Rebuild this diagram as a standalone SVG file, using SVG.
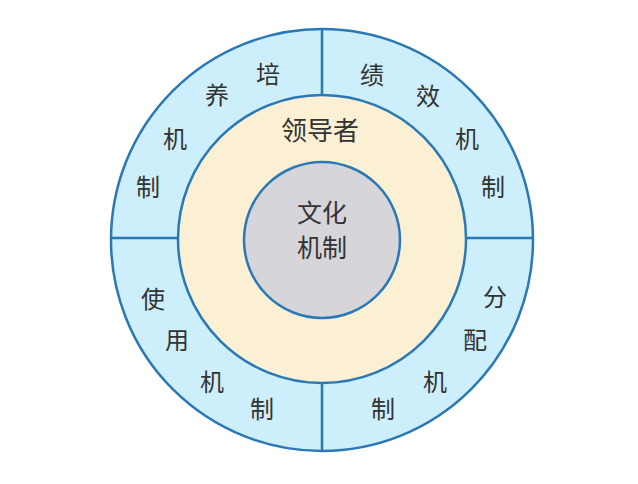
<svg xmlns="http://www.w3.org/2000/svg" width="638" height="484" viewBox="0 0 638 484">
<style>
.ring{stroke:#2a78b5;stroke-width:2.5}
.t{font-family:"Noto Sans CJK SC","Noto Sans",sans-serif;fill:#333;text-anchor:middle;dominant-baseline:central}
.o{font-size:24px}
.m{font-size:26px}
.c{font-size:25px}
</style>
<rect width="638" height="484" fill="#ffffff"/>
<g id="outer">
<circle class="ring" cx="322" cy="240" r="211" fill="#cdeefb"/>
</g>
<g id="connectors">
<line class="ring" x1="322" y1="29" x2="322" y2="451"/>
<line class="ring" x1="111" y1="238" x2="533" y2="238"/>
</g>
<g id="middle">
<circle class="ring" cx="322" cy="239" r="144" fill="#fbf0d3"/>
<text class="t m" x="320" y="128">领导者</text>
</g>
<g id="inner">
<circle class="ring" cx="322" cy="240" r="78" fill="#d6d6da"/>
<text class="t c" x="322" y="211">文化</text>
<text class="t c" x="322" y="246">机制</text>
</g>
<g id="peiyang">
<text class="t o" x="268" y="72">培</text>
<text class="t o" x="217" y="93">养</text>
<text class="t o" x="175" y="137">机</text>
<text class="t o" x="148" y="185">制</text>
</g>
<g id="jixiao">
<text class="t o" x="372" y="73">绩</text>
<text class="t o" x="428" y="94">效</text>
<text class="t o" x="467" y="137">机</text>
<text class="t o" x="493" y="185">制</text>
</g>
<g id="fenpei">
<text class="t o" x="495" y="295">分</text>
<text class="t o" x="475" y="338">配</text>
<text class="t o" x="435" y="380">机</text>
<text class="t o" x="383" y="407">制</text>
</g>
<g id="shiyong">
<text class="t o" x="153" y="297">使</text>
<text class="t o" x="177" y="338">用</text>
<text class="t o" x="212" y="380">机</text>
<text class="t o" x="262" y="407">制</text>
</g>
</svg>
